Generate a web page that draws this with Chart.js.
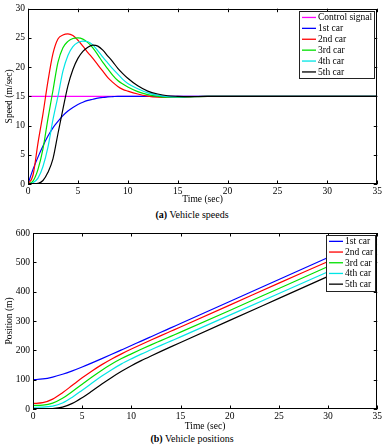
<!DOCTYPE html>
<html><head><meta charset="utf-8">
<script src="https://cdn.jsdelivr.net/npm/chart.js@4.4.0/dist/chart.umd.min.js"></script>
<style>
html,body{margin:0;padding:0;background:#fff;width:384px;height:445px;overflow:hidden;font-family:"Liberation Serif","DejaVu Serif",serif;}
#c1{position:absolute;left:0;top:0;}
#c2{position:absolute;left:0;top:220px;}
.cap{position:absolute;left:0;width:384px;text-align:center;font-size:10px;color:#000;line-height:12px;}
</style></head><body>
<canvas id="c1" width="384" height="205"></canvas>
<div class="cap" style="top:209px"><b>(a)</b> Vehicle speeds</div>
<canvas id="c2" width="384" height="212"></canvas>
<div class="cap" style="top:433px"><b>(b)</b> Vehicle positions</div>
<script>
// ---------- data ----------
const speedTime = [0,0.5,1,1.5,2,2.5,3,3.5,4,4.5,5,5.5,6,6.5,7,7.5,8,8.5,9,9.5,10,11,12,13,14,15,16,18,20,25,30,35];
const controlSignal = [15,15,15,15,15,15,15,15,15,15,15,15,15,15,15,15,15,15,15,15,15,15,15,15,15,15,15,15,15,15,15,15];
const speedCar1 = [0,2.5,4.6,6.5,8.2,9.6,10.7,11.7,12.5,13.1,13.6,14.0,14.3,14.5,14.7,14.8,14.9,14.95,15,15,15,15,15,15,15,15,15,15,15,15,15,15];
const speedCar2 = [0,1.5,7,12,17.6,22.3,24.8,25.5,25.7,25.4,24.6,23.6,22.5,21.5,20.4,19.3,18.2,17.4,16.7,16.2,15.9,15.4,15.05,14.85,14.8,14.85,14.9,15,15,15,15,15];
const speedCar3 = [0,0.5,2.5,6,11.2,16,20.8,23.3,24.4,24.9,25,24.8,24.2,23.3,22.1,20.8,19.7,18.6,17.7,17.1,16.6,15.8,15.3,15.0,14.85,14.85,14.9,15,15,15,15,15];
const speedCar4 = [0,0.2,1,3,6.3,11.0,15.0,19.3,22.0,23.5,24.2,24.45,24.35,23.8,22.8,21.7,20.7,19.7,18.8,17.9,17.2,16.3,15.6,15.2,14.95,14.9,14.95,15,15,15,15,15];
const speedCar5 = [0,0,0.1,0.6,2.0,4.3,8.6,12.8,16.8,19.6,21.5,22.7,23.4,23.75,23.6,22.9,21.9,20.9,19.8,18.9,18.1,16.8,15.9,15.4,15.1,15.0,14.95,15,15,15,15,15];

const posTime = [0,1,2,3,4,5,6,7,8,9,10,11,12,13,14,15,20,25,30,35];
const posCar1 = [100,102.4,108.9,118.4,130.1,143.2,157.2,171.7,186.5,201.5,216.5,231.5,246.5,261.5,276.5,291.5,366.5,441.5,516.5,591.5];
const posCar2 = [19,21.5,33.6,55.5,80.9,106.2,129.8,151.3,170.6,188,204.3,219.9,235.1,250,264.8,279.6,354,429,503,578];
const posCar3 = [12.5,13.4,19.9,36.3,59.6,84.4,109.1,132.4,153.3,171.9,188,203.5,218.5,233,247.5,262,336,411,486,561];
const posCar4 = [6,6.4,9.7,20.6,40.4,63.9,88.3,112.1,134,153.8,171,187,202,217,231.5,246,320,394,468,543];
const posCar5 = [0,0.3,1.2,6.2,19.1,38.6,61.3,84.9,107.6,128.6,147.6,164.8,180.9,196.5,211.7,226.8,302,377,452,527];

const speedLabels = ['Control signal','1st car','2nd car','3rd car','4th car','5th car'];
const posLabels = ['1st car','2nd car','3rd car','4th car','5th car'];
const xTickStep = 5, speedTickStep = 5, posTickStep = 100;

// ---------- styling ----------
const COLORS = {control:'#ff00ff', c1:'#0000ff', c2:'#ff0000', c3:'#00e000', c4:'#00e5e5', c5:'#000000'};
const FONT = '"Liberation Serif","Times New Roman",serif';
Chart.defaults.color = '#000';
Chart.defaults.font.family = FONT;
Chart.defaults.font.size = 9.5;

function pts(xs, ys){ return xs.map((x,i)=>({x:x, y:ys[i]})); }
function ds(label, xs, ys, color, order){
  return {label, data: pts(xs, ys), borderColor: color, backgroundColor: color,
    borderWidth: 1.2, pointRadius: 0, fill: false, cubicInterpolationMode: 'monotone', order};
}

const framePlugin = {
  id:'frame',
  afterDatasetsDraw(chart){
    const {ctx, chartArea:a, scales:{x, y}} = chart;
    ctx.save();
    ctx.strokeStyle = '#000'; ctx.lineWidth = 1;
    const L = 3.5;
    ctx.beginPath();
    x.ticks.forEach(t=>{
      const px = Math.round(x.getPixelForValue(t.value)) + 0.5;
      ctx.moveTo(px, a.bottom); ctx.lineTo(px, a.bottom - L);
      ctx.moveTo(px, a.top); ctx.lineTo(px, a.top + L);
    });
    y.ticks.forEach(t=>{
      const py = Math.round(y.getPixelForValue(t.value)) + 0.5;
      ctx.moveTo(a.left, py); ctx.lineTo(a.left + L, py);
      ctx.moveTo(a.right, py); ctx.lineTo(a.right - L, py);
    });
    ctx.stroke();
    ctx.strokeRect(Math.round(a.left) + 0.5, Math.round(a.top) + 0.5,
                   Math.round(a.right - a.left) - 1, Math.round(a.bottom - a.top) - 1);
    ctx.restore();
  }
};

const legendPlugin = {
  id:'boxLegend',
  afterDraw(chart, args, opts){
    const {ctx, chartArea:a} = chart;
    const sets = chart.data.datasets;
    ctx.save();
    ctx.font = '9.5px ' + FONT;
    const textW = Math.max(...sets.map(d=>ctx.measureText(d.label).width));
    const rowH = opts.rowH, lineLen = 14;
    const w = Math.round(3 + lineLen + 2 + textW + 2);
    const h = Math.round(sets.length * rowH + 2);
    const right = Math.round(a.right - opts.dx), top = Math.round(a.top + opts.dy);
    const left = right - w;
    ctx.fillStyle = '#fff'; ctx.fillRect(left, top, w, h);
    ctx.strokeStyle = '#222'; ctx.lineWidth = 1;
    ctx.strokeRect(left + 0.5, top + 0.5, w, h);
    sets.forEach((d,i)=>{
      const cy = top + 1 + rowH * (i + 0.5);
      ctx.strokeStyle = d.borderColor; ctx.lineWidth = 1.3;
      ctx.beginPath(); ctx.moveTo(left + 3, cy); ctx.lineTo(left + 3 + lineLen, cy); ctx.stroke();
      ctx.fillStyle = '#000'; ctx.textBaseline = 'middle'; ctx.textAlign = 'left';
      ctx.fillText(d.label, left + 3 + lineLen + 2, cy + 0.5);
    });
    ctx.restore();
  }
};

function makeChart(id, datasets, yMax, yStep, yTitle, yWidth, padTop, xHeight, legendOpts){
  return new Chart(document.getElementById(id), {
    type:'line',
    data:{datasets},
    options:{
      responsive:false, animation:false, devicePixelRatio:1,
      layout:{padding:{left:0, right:6, top:padTop, bottom:0}},
      plugins:{legend:{display:false}, tooltip:{enabled:false}, boxLegend:legendOpts},
      scales:{
        x:{type:'linear', min:0, max:35,
          grid:{display:false, drawTicks:false}, border:{display:false},
          ticks:{stepSize:xTickStep, padding:2, maxRotation:0, font:{size:9.5}},
          title:{display:true, text:'Time (sec)', padding:{top:0,bottom:0}, font:{size:9.5}},
          afterFit(s){ s.height = xHeight; }
        },
        y:{type:'linear', min:0, max:yMax,
          grid:{display:false, drawTicks:false}, border:{display:false},
          ticks:{stepSize:yStep, padding:3, font:{size:9.5}},
          title:{display:true, text:yTitle, padding:{top:4,bottom:0}, font:{size:9.5}},
          afterFit(s){ s.width = yWidth; }
        }
      }
    },
    plugins:[framePlugin, legendPlugin]
  });
}

makeChart('c1', [
  ds(speedLabels[0], speedTime, controlSignal, COLORS.control, 6),
  ds(speedLabels[1], speedTime, speedCar1, COLORS.c1, 5),
  ds(speedLabels[2], speedTime, speedCar2, COLORS.c2, 4),
  ds(speedLabels[3], speedTime, speedCar3, COLORS.c3, 3),
  ds(speedLabels[4], speedTime, speedCar4, COLORS.c4, 2),
  ds(speedLabels[5], speedTime, speedCar5, COLORS.c5, 1)
], 30, speedTickStep, 'Speed (m/sec)', 28, 8, 21, {rowH:10.9, dx:3, dy:2});

makeChart('c2', [
  ds(posLabels[0], posTime, posCar1, COLORS.c1, 5),
  ds(posLabels[1], posTime, posCar2, COLORS.c2, 4),
  ds(posLabels[2], posTime, posCar3, COLORS.c3, 3),
  ds(posLabels[3], posTime, posCar4, COLORS.c4, 2),
  ds(posLabels[4], posTime, posCar5, COLORS.c5, 1)
], 600, posTickStep, 'Position (m)', 33, 13, 23, {rowH:10.7, dx:2, dy:2});
</script>
</body></html>
